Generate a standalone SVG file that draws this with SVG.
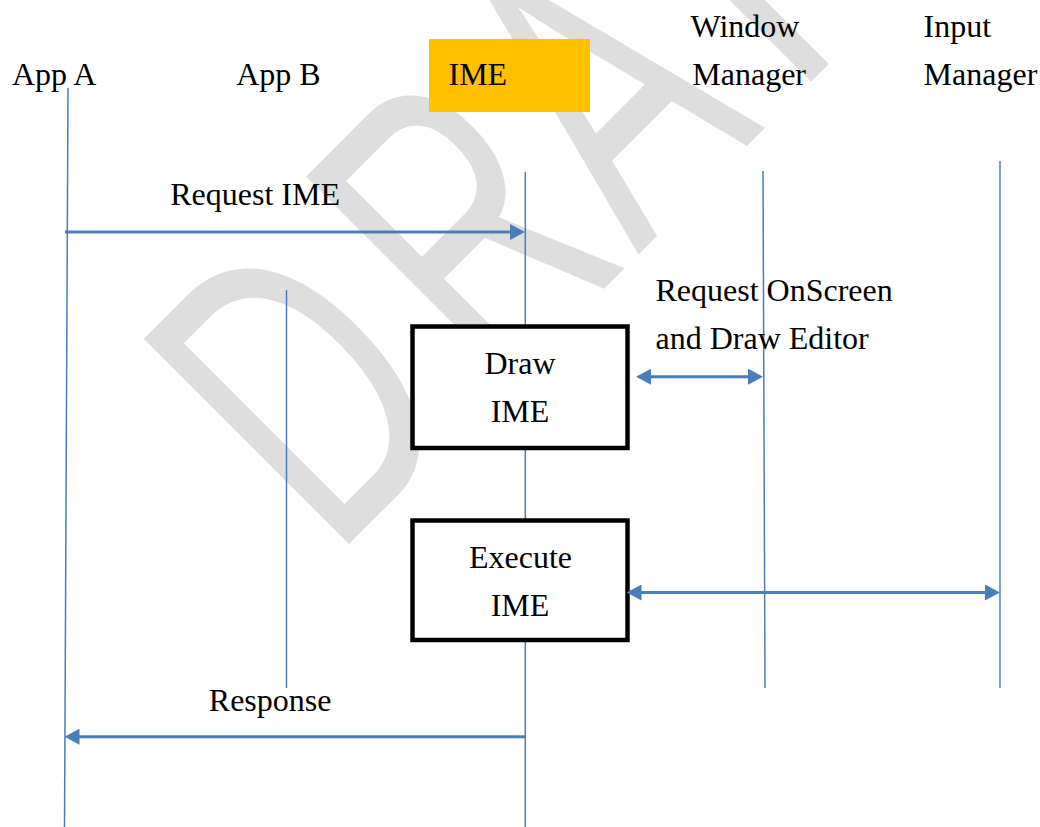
<svg xmlns="http://www.w3.org/2000/svg" width="1040" height="827" viewBox="0 0 1040 827">
  <style>
    .lbl { font-family: "Liberation Serif", "Times New Roman", serif; font-size: 32px; fill: #000000; }
    .mid { text-anchor: middle; }
    .life { stroke: #4a7ebb; stroke-width: 1.5; fill: none; }
    .msg { stroke: #4a7ebb; stroke-width: 3; fill: none; }
    .box { fill: #ffffff; stroke: #000000; stroke-width: 4.5; }
    .wm { font-family: "Liberation Sans", Arial, sans-serif; font-size: 422px; fill: #dedede; }
  </style>
  <defs>
    <marker id="ah" viewBox="0 0 15 16" refX="10" refY="8" markerWidth="15" markerHeight="16" markerUnits="userSpaceOnUse" orient="auto-start-reverse">
      <path d="M0,0 L15,8 L0,16 Z" fill="#4a7ebb"/>
    </marker>
  </defs>
  <rect x="0" y="0" width="1040" height="827" fill="#ffffff"/>

  <!-- watermark -->
  <g id="watermark" transform="translate(348,545) rotate(-45) scale(0.64,1)">
    <text class="wm" x="-32.5 326.2 641.2 988.8 1297" y="0">DRAFT</text>
  </g>

  <!-- connectors: lifelines and messages -->
  <g id="connectors">
    <line class="life" x1="68" y1="88" x2="64.5" y2="827"/>
    <line class="life" x1="286.5" y1="290" x2="286.5" y2="688"/>
    <line class="life" x1="525.3" y1="172" x2="525.3" y2="827"/>
    <line class="life" x1="763" y1="171" x2="765" y2="688"/>
    <line class="life" x1="1000" y1="161" x2="1000" y2="688"/>
  </g>

  <!-- nodes -->
  <g id="node-app-a">
    <text class="lbl" x="12" y="85">App A</text>
  </g>
  <g id="node-app-b">
    <text class="lbl" x="236.2" y="85">App B</text>
  </g>
  <g id="node-ime">
    <rect x="429" y="39" width="161" height="73" fill="#ffc000"/>
    <text class="lbl" x="448.5" y="85">IME</text>
  </g>
  <g id="node-window-manager">
    <text class="lbl" x="690.5" y="36.5">Window</text>
    <text class="lbl" x="692.3" y="85">Manager</text>
  </g>
  <g id="node-input-manager">
    <text class="lbl" x="923.5" y="36.7">Input</text>
    <text class="lbl" x="923.6" y="85">Manager</text>
  </g>
  <g id="node-draw-ime">
    <rect class="box" x="412.5" y="326.5" width="215" height="121.5"/>
    <text class="lbl mid" x="520" y="374">Draw</text>
    <text class="lbl mid" x="520" y="422">IME</text>
  </g>
  <g id="node-execute-ime">
    <rect class="box" x="412.5" y="520.5" width="215" height="119.5"/>
    <text class="lbl mid" x="520.5" y="568">Execute</text>
    <text class="lbl mid" x="520" y="616">IME</text>
  </g>

  <g id="messages">
    <path class="msg" d="M65,232 H520" marker-end="url(#ah)"/>
    <path class="msg" d="M641,376.7 H758" marker-start="url(#ah)" marker-end="url(#ah)"/>
    <path class="msg" d="M631.5,592.5 H995" marker-start="url(#ah)" marker-end="url(#ah)"/>
    <path class="msg" d="M525.3,736.7 H69.5" marker-end="url(#ah)"/>
  </g>

  <g id="message-labels">
    <text class="lbl" x="170.2" y="205">Request IME</text>
    <text class="lbl" x="655.5" y="300.5">Request OnScreen</text>
    <text class="lbl" x="655.5" y="348.5">and Draw Editor</text>
    <text class="lbl" x="208.8" y="710.7">Response</text>
  </g>
</svg>
